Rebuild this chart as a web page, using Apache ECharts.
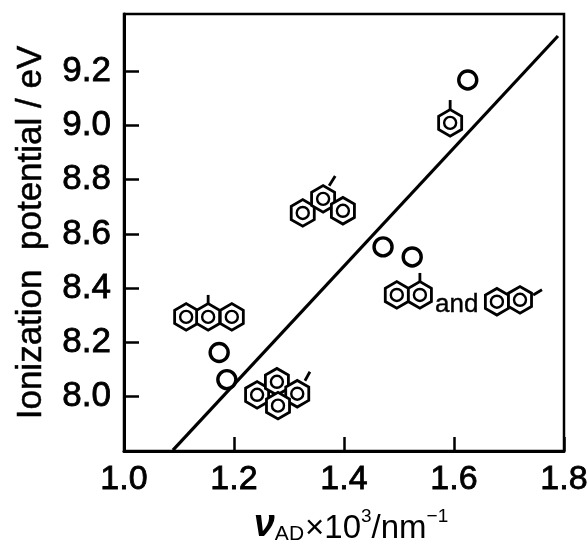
<!DOCTYPE html>
<html><head><meta charset="utf-8">
<style>html,body{margin:0;padding:0;background:#fff}#c{width:587px;height:542px}</style>
<script src="https://cdn.jsdelivr.net/npm/echarts@6/dist/echarts.min.js"></script>
</head><body><div id="c"></div>
<script>
const xTicks = [1.0, 1.2, 1.4, 1.6, 1.8];
const yTicks = [8.0, 8.2, 8.4, 8.6, 8.8, 9.0, 9.2];
const points = [[1.173,8.163],[1.187,8.063],[1.471,8.552],[1.524,8.515],[1.625,9.167]];
const fitLine = [[1.089,7.803],[1.789,9.329]];
const rings = [
  [1.113,8.294],[1.153,8.294],[1.196,8.294],
  [1.325,8.677],[1.362,8.729],[1.398,8.685],
  [1.242,8.007],[1.278,8.055],[1.315,8.011],[1.28,7.967],
  [1.496,8.375],[1.538,8.375],[1.678,8.35],[1.72,8.357],
  [1.593,9.009]
];
const methyls = [
  [1.153,8.375,1.153,8.339],
  [1.384,8.813,1.373,8.777],
  [1.338,8.092,1.329,8.059],
  [1.538,8.456,1.538,8.42],
  [1.76,8.394,1.744,8.375],
  [1.593,9.093,1.593,9.056]
];
const andLabel = [[1.605,8.34]];

const FONT = '"Liberation Sans"';
const chart = echarts.init(document.getElementById('c'), null, {renderer:'canvas'});
function ringItem(params, api){
  const c = api.coord([api.value(0), api.value(1)]);
  const R = 13.3, pts = [];
  for(let i=0;i<6;i++){
    const a = Math.PI/6 + i*Math.PI/3;
    pts.push([c[0]+R*Math.cos(a), c[1]+R*Math.sin(a)]);
  }
  return {type:'group', children:[
    {type:'polygon', shape:{points:pts}, style:{fill:'#fff', stroke:'#000', lineWidth:2.8}},
    {type:'circle', shape:{cx:c[0], cy:c[1], r:6}, style:{fill:'#fff', stroke:'#000', lineWidth:2.4}}
  ]};
}
function stubItem(params, api){
  const a = api.coord([api.value(0), api.value(1)]);
  const b = api.coord([api.value(2), api.value(3)]);
  return {type:'line', shape:{x1:a[0],y1:a[1],x2:b[0],y2:b[1]}, style:{stroke:'#000', lineWidth:2.8}};
}
chart.setOption({
  animation:false,
  backgroundColor:'#fff',
  grid:{left:124, right:23, top:14, bottom:91, outerBoundsMode:'none', show:true, borderColor:'#000', borderWidth:2.5, backgroundColor:'transparent'},
  xAxis:{
    type:'value', min:1.0, max:1.8, splitLine:{show:false},
    axisLine:{show:true, onZero:false, lineStyle:{color:'#000', width:3}},
    axisTick:{show:true, inside:true, length:14, lineStyle:{color:'#000', width:2.5}, customValues:xTicks},
    axisLabel:{color:'#000', fontFamily:FONT, fontSize:34, margin:12, customValues:xTicks, formatter:v=>v.toFixed(1),
      textBorderColor:'#000', textBorderWidth:0.8},
    name:'{nu|ν}{sub|AD}{m|×10}{sup|3}{m|/nm}{sup|−1}',
    nameLocation:'middle', nameGap:56,
    nameTextStyle:{color:'#000', padding:[0,0,0,14], rich:{
      nu:{fontFamily:FONT, fontStyle:'italic', fontWeight:'bold', fontSize:38, color:'#000', verticalAlign:'bottom'},
      sub:{fontFamily:FONT, fontSize:21, color:'#000', verticalAlign:'bottom', padding:[0,1,0,0]},
      m:{fontFamily:FONT, fontSize:33, color:'#000', verticalAlign:'bottom'},
      sup:{fontFamily:FONT, fontSize:19, color:'#000', verticalAlign:'top'}
    }}
  },
  yAxis:{
    type:'value', min:7.8, max:9.41, splitLine:{show:false},
    axisLine:{show:true, onZero:false, lineStyle:{color:'#000', width:3}},
    axisTick:{show:true, inside:true, length:15, lineStyle:{color:'#000', width:2.5}, customValues:yTicks},
    axisLabel:{color:'#000', fontFamily:FONT, fontSize:35, margin:13, customValues:yTicks, formatter:v=>v.toFixed(1),
      textBorderColor:'#000', textBorderWidth:0.8},
    name:'Ionization  potential / eV',
    nameLocation:'middle', nameGap:75, nameRotate:90,
    nameTextStyle:{color:'#000', fontFamily:FONT, fontSize:35, textBorderColor:'#000', textBorderWidth:0.5}
  },
  series:[
    {type:'line', data:fitLine, symbol:'none', lineStyle:{color:'#000', width:3.2}, z:2},
    {type:'scatter', data:points, symbol:'circle', symbolSize:18,
      itemStyle:{color:'#fff', borderColor:'#000', borderWidth:3.4, opacity:1}, z:5},
    {type:'custom', data:methyls, renderItem:stubItem, encode:{x:[0,2], y:[1,3]}, z:3},
    {type:'custom', data:rings, renderItem:ringItem, encode:{x:0, y:1}, z:4},
    {type:'scatter', data:andLabel, symbolSize:1, itemStyle:{color:'#fff', opacity:1}, z:6,
      label:{show:true, position:'inside', formatter:'and', color:'#000', opacity:1, fontFamily:FONT, fontSize:26, textBorderColor:'#000', textBorderWidth:0.4}}
  ]
});
</script></body></html>
